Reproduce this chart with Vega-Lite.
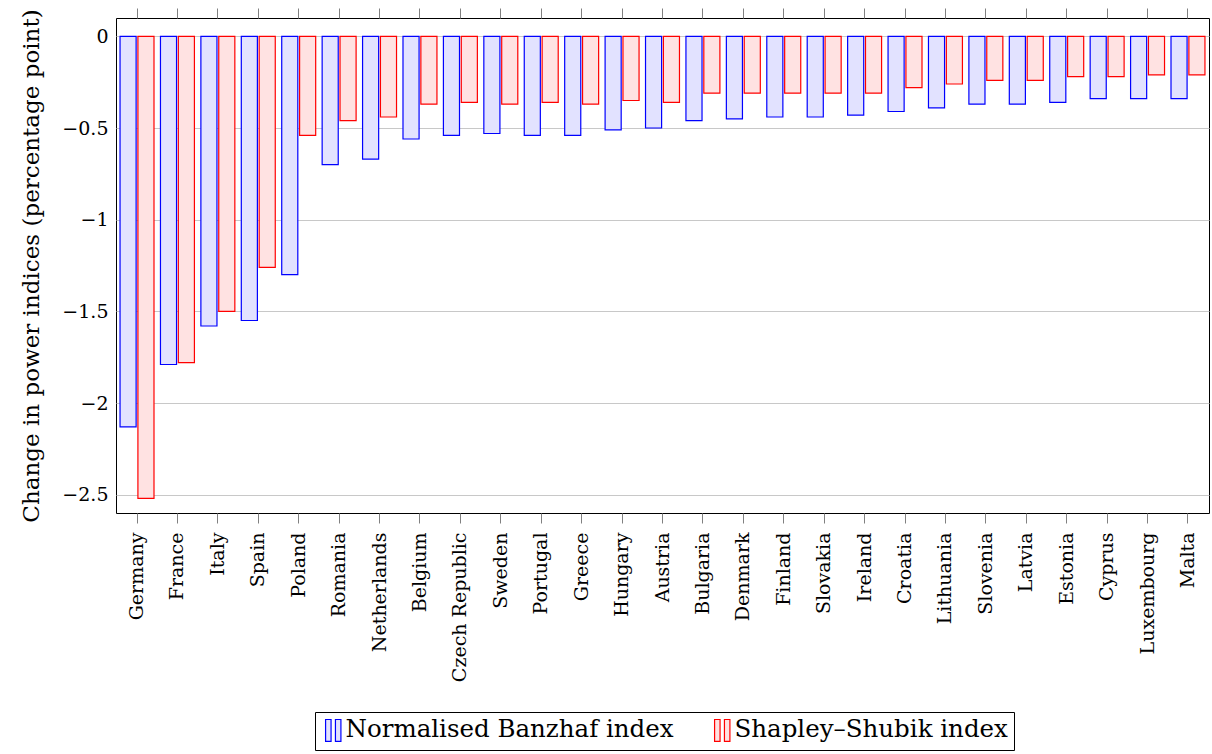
{
  "$schema": "https://vega.github.io/schema/vega-lite/v6.json",
  "width": 1093,
  "height": 495,
  "autosize": {"type": "none"},
  "padding": {"left": 116, "top": 18, "right": 3, "bottom": 241},
  "background": "white",
  "config": {
    "font": "DejaVu Serif",
    "axis": {"labelFont": "DejaVu Serif", "titleFont": "DejaVu Serif"},
    "legend": {"labelFont": "DejaVu Serif", "titleFont": "DejaVu Serif"},
    "view": {"stroke": "black", "strokeWidth": 1}
  },
  "data": {
    "values": [
      {"country": "Germany", "index": "Normalised Banzhaf index", "value": -2.13},
      {"country": "Germany", "index": "Shapley–Shubik index", "value": -2.52},
      {"country": "France", "index": "Normalised Banzhaf index", "value": -1.79},
      {"country": "France", "index": "Shapley–Shubik index", "value": -1.78},
      {"country": "Italy", "index": "Normalised Banzhaf index", "value": -1.58},
      {"country": "Italy", "index": "Shapley–Shubik index", "value": -1.50},
      {"country": "Spain", "index": "Normalised Banzhaf index", "value": -1.55},
      {"country": "Spain", "index": "Shapley–Shubik index", "value": -1.26},
      {"country": "Poland", "index": "Normalised Banzhaf index", "value": -1.30},
      {"country": "Poland", "index": "Shapley–Shubik index", "value": -0.54},
      {"country": "Romania", "index": "Normalised Banzhaf index", "value": -0.70},
      {"country": "Romania", "index": "Shapley–Shubik index", "value": -0.46},
      {"country": "Netherlands", "index": "Normalised Banzhaf index", "value": -0.67},
      {"country": "Netherlands", "index": "Shapley–Shubik index", "value": -0.44},
      {"country": "Belgium", "index": "Normalised Banzhaf index", "value": -0.56},
      {"country": "Belgium", "index": "Shapley–Shubik index", "value": -0.37},
      {"country": "Czech Republic", "index": "Normalised Banzhaf index", "value": -0.54},
      {"country": "Czech Republic", "index": "Shapley–Shubik index", "value": -0.36},
      {"country": "Sweden", "index": "Normalised Banzhaf index", "value": -0.53},
      {"country": "Sweden", "index": "Shapley–Shubik index", "value": -0.37},
      {"country": "Portugal", "index": "Normalised Banzhaf index", "value": -0.54},
      {"country": "Portugal", "index": "Shapley–Shubik index", "value": -0.36},
      {"country": "Greece", "index": "Normalised Banzhaf index", "value": -0.54},
      {"country": "Greece", "index": "Shapley–Shubik index", "value": -0.37},
      {"country": "Hungary", "index": "Normalised Banzhaf index", "value": -0.51},
      {"country": "Hungary", "index": "Shapley–Shubik index", "value": -0.35},
      {"country": "Austria", "index": "Normalised Banzhaf index", "value": -0.50},
      {"country": "Austria", "index": "Shapley–Shubik index", "value": -0.36},
      {"country": "Bulgaria", "index": "Normalised Banzhaf index", "value": -0.46},
      {"country": "Bulgaria", "index": "Shapley–Shubik index", "value": -0.31},
      {"country": "Denmark", "index": "Normalised Banzhaf index", "value": -0.45},
      {"country": "Denmark", "index": "Shapley–Shubik index", "value": -0.31},
      {"country": "Finland", "index": "Normalised Banzhaf index", "value": -0.44},
      {"country": "Finland", "index": "Shapley–Shubik index", "value": -0.31},
      {"country": "Slovakia", "index": "Normalised Banzhaf index", "value": -0.44},
      {"country": "Slovakia", "index": "Shapley–Shubik index", "value": -0.31},
      {"country": "Ireland", "index": "Normalised Banzhaf index", "value": -0.43},
      {"country": "Ireland", "index": "Shapley–Shubik index", "value": -0.31},
      {"country": "Croatia", "index": "Normalised Banzhaf index", "value": -0.41},
      {"country": "Croatia", "index": "Shapley–Shubik index", "value": -0.28},
      {"country": "Lithuania", "index": "Normalised Banzhaf index", "value": -0.39},
      {"country": "Lithuania", "index": "Shapley–Shubik index", "value": -0.26},
      {"country": "Slovenia", "index": "Normalised Banzhaf index", "value": -0.37},
      {"country": "Slovenia", "index": "Shapley–Shubik index", "value": -0.24},
      {"country": "Latvia", "index": "Normalised Banzhaf index", "value": -0.37},
      {"country": "Latvia", "index": "Shapley–Shubik index", "value": -0.24},
      {"country": "Estonia", "index": "Normalised Banzhaf index", "value": -0.36},
      {"country": "Estonia", "index": "Shapley–Shubik index", "value": -0.22},
      {"country": "Cyprus", "index": "Normalised Banzhaf index", "value": -0.34},
      {"country": "Cyprus", "index": "Shapley–Shubik index", "value": -0.22},
      {"country": "Luxembourg", "index": "Normalised Banzhaf index", "value": -0.34},
      {"country": "Luxembourg", "index": "Shapley–Shubik index", "value": -0.21},
      {"country": "Malta", "index": "Normalised Banzhaf index", "value": -0.34},
      {"country": "Malta", "index": "Shapley–Shubik index", "value": -0.21}
    ]
  },
  "layer": [
    {
      "mark": {"type": "bar", "strokeWidth": 1.2},
      "encoding": {
        "x": {
          "field": "country",
          "type": "nominal",
          "sort": null,
          "scale": {"paddingInner": 0.16, "paddingOuter": 0.1},
          "axis": {
            "title": null,
            "labelAngle": -90,
            "labelAlign": "right",
            "labelBaseline": "middle",
            "labelFont": "DejaVu Serif",
            "labelFontSize": 19,
            "labelColor": "black",
            "labelPadding": 9,
            "tickSize": 10,
            "tickColor": "#808080",
            "domain": false,
            "grid": false
          }
        },
        "xOffset": {
          "field": "index",
          "type": "nominal",
          "scale": {"paddingInner": 0.1}
        },
        "y": {
          "field": "value",
          "type": "quantitative",
          "scale": {"domain": [-2.6, 0.1], "nice": false, "zero": false},
          "axis": {
            "title": "Change in power indices (percentage point)",
            "titleFont": "DejaVu Serif",
            "titleFontSize": 23,
            "titleFontWeight": "normal",
            "titleColor": "black",
            "titlePadding": 18,
            "values": [0, -0.5, -1, -1.5, -2, -2.5],
            "format": "~g",
            "labelFont": "DejaVu Serif",
            "labelFontSize": 19,
            "labelColor": "black",
            "labelPadding": 8,
            "ticks": false,
            "domain": false,
            "grid": true,
            "gridColor": "#c8c8c8",
            "gridWidth": 1
          }
        },
        "stroke": {
          "field": "index",
          "type": "nominal",
          "scale": {"range": ["#0000ff", "#ff0000"]},
          "legend": null
        },
        "fill": {
          "field": "index",
          "type": "nominal",
          "scale": {"range": ["#e2e2ff", "#ffe2e2"]},
          "legend": {
            "title": null,
            "orient": "none",
            "legendX": 199,
            "legendY": 694,
            "direction": "horizontal",
            "strokeColor": "black",
            "padding": 6,
            "labelFont": "DejaVu Serif",
            "labelFontSize": 24.5,
            "labelColor": "black",
            "labelLimit": 420,
            "columnPadding": 36,
            "symbolType": "M-0.7,-1H-0.2V1H-0.7Z M0.2,-1H0.7V1H0.2Z",
            "symbolSize": 480,
            "symbolStrokeWidth": 1.2,
            "labelOffset": 0
          }
        }
      }
    },
    {
      "mark": {"type": "rule", "opacity": 0},
      "encoding": {
        "x": {
          "field": "country",
          "type": "nominal",
          "sort": null,
          "axis": {
            "orient": "top",
            "labels": false,
            "title": null,
            "tickSize": 10,
            "tickColor": "#808080",
            "domain": false,
            "grid": false
          }
        }
      }
    }
  ],
  "resolve": {"axis": {"x": "independent"}}
}
